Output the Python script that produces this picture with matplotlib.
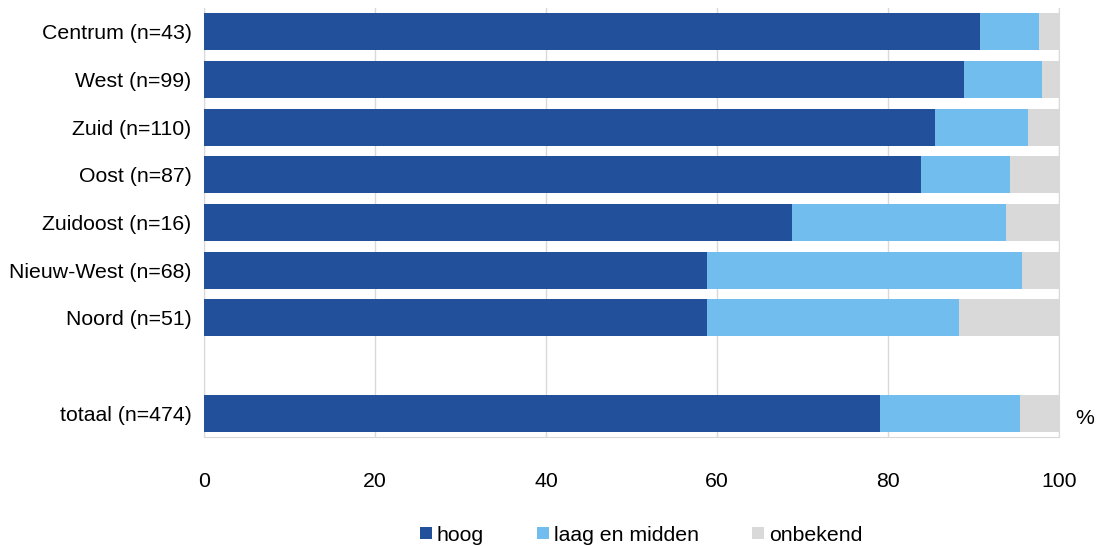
import numpy as np
import matplotlib.pyplot as plt

plt.rcParams['font.family'] = ['Liberation Sans', 'DejaVu Sans']

# Data (percent), top to bottom; empty slot between Noord and totaal
labels = ['Centrum (n=43)', 'West (n=99)', 'Zuid (n=110)', 'Oost (n=87)',
          'Zuidoost (n=16)', 'Nieuw-West (n=68)', 'Noord (n=51)', '', 'totaal (n=474)']
hoog = [90.8, 88.9, 85.5, 83.9, 68.8, 58.8, 58.8, 0, 79.1]
laag_midden = [6.9, 9.1, 10.9, 10.4, 25.0, 36.9, 29.5, 0, 16.3]
onbekend = [2.3, 2.0, 3.6, 5.7, 6.2, 4.3, 11.7, 0, 4.6]

series_names = ['hoog', 'laag en midden', 'onbekend']
colors = ['#23509b', '#71bded', '#d9d9d9']


def main() -> None:
  fig = plt.figure(figsize=(10.98, 5.46), dpi=100)
  ax = fig.add_axes([0.1858, 0.1996, 0.7787, 0.7857])

  y = np.arange(len(labels))
  left = np.zeros(len(labels))
  for vals, name, col in zip([hoog, laag_midden, onbekend], series_names, colors):
    vals = np.array(vals)
    ax.barh(y, vals, left=left, height=0.78, color=col, label=name, zorder=3)
    left += vals

  ax.set_ylim(len(labels) - 0.5, -0.5)
  ax.set_xlim(0, 100)
  ax.set_yticks(y, labels)
  ax.set_xticks([0, 20, 40, 60, 80, 100])

  ax.grid(axis='x', color='#d9d9d9', linewidth=1, zorder=0)
  ax.tick_params(axis='both', length=0, labelsize=15.3)
  ax.tick_params(axis='x', pad=25)
  ax.tick_params(axis='y', pad=9)
  ax.spines['top'].set_visible(False)
  for side in ['left', 'bottom', 'right']:
    ax.spines[side].set_color('#d9d9d9')

  fig.text(1085 / 1098, 1 - 418 / 546, '%', ha='center', va='center', fontsize=15.3)

  fig.legend(loc='center', bbox_to_anchor=(0.584, 0.02), ncol=3, frameon=False,
             fontsize=15.3, handlelength=0.55, handleheight=0.55,
             handletextpad=0.25, columnspacing=2.5)

  plt.savefig('out.png', dpi=100)
  plt.close()


if __name__ == "__main__":
  main()
